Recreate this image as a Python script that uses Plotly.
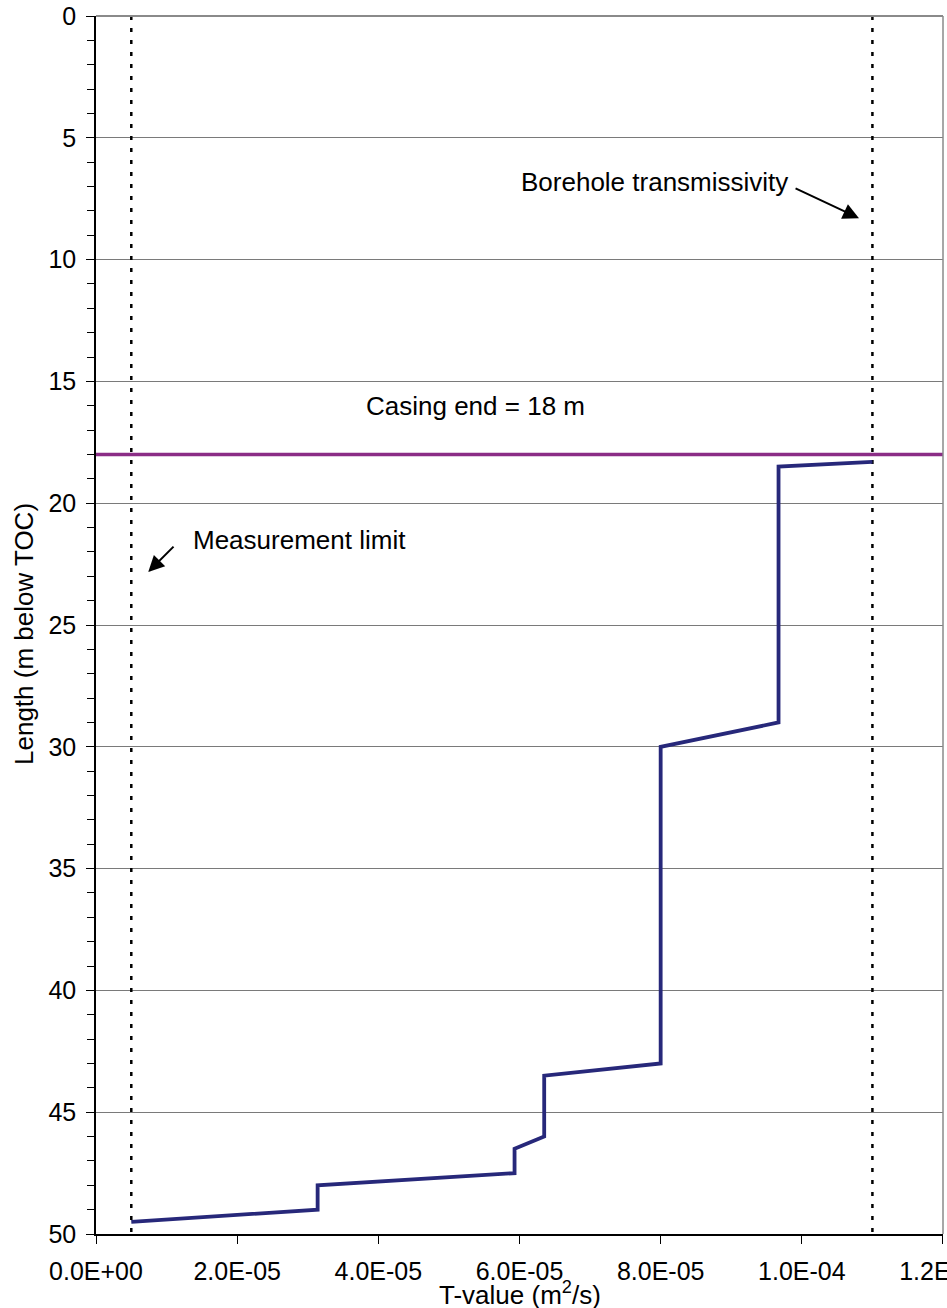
import plotly.graph_objects as go

# Data
t_value = [1.10e-4, 9.67e-5, 9.67e-5, 8.0e-5, 8.0e-5, 6.35e-5, 6.35e-5,
           5.93e-5, 5.93e-5, 3.14e-5, 3.14e-5, 5.0e-6]
length = [18.3, 18.5, 29.0, 30.0, 43.0, 43.5, 46.0, 46.5, 47.5, 48.0, 49.0, 49.5]

measurement_limit = 5.0e-6
borehole_T = 1.10e-4
casing_end = 18.0

x_tickvals = [0.0, 2.0e-5, 4.0e-5, 6.0e-5, 8.0e-5, 1.0e-4, 1.2e-4]
x_ticktext = ["0.0E+00", "2.0E-05", "4.0E-05", "6.0E-05", "8.0E-05", "1.0E-04", "1.2E-04"]
y_tickvals = [0, 5, 10, 15, 20, 25, 30, 35, 40, 45, 50]

FONT = "Arial, 'Liberation Sans', sans-serif"
DOT = "4px,8px"
X_MAX = 1.20001e-4

fig = go.Figure()

# Measurement limit (dotted)
fig.add_trace(go.Scatter(x=[measurement_limit, measurement_limit], y=[0, 50], mode="lines",
                         line=dict(color="black", width=2.5, dash=DOT), hoverinfo="skip",
                         showlegend=False))
# Borehole transmissivity (dotted)
fig.add_trace(go.Scatter(x=[borehole_T, borehole_T], y=[0, 50], mode="lines",
                         line=dict(color="black", width=2.5, dash=DOT), hoverinfo="skip",
                         showlegend=False))
# Casing end
fig.add_trace(go.Scatter(x=[0, X_MAX], y=[casing_end, casing_end], mode="lines",
                         line=dict(color="#8B2D86", width=3.5), showlegend=False))
# T-value profile
fig.add_trace(go.Scatter(x=t_value, y=length, mode="lines",
                         line=dict(color="#27287A", width=3.8), showlegend=False))

fig.update_layout(
    width=947, height=1308,
    margin=dict(l=96, r=4, t=16, b=74),
    plot_bgcolor="white", paper_bgcolor="white",
    font=dict(family=FONT, size=25, color="black"),
    showlegend=False,
    xaxis=dict(range=[0, X_MAX], tickvals=x_tickvals, ticktext=x_ticktext, automargin=False,
               ticklabeloverflow="allow",
               showgrid=False, zeroline=False, showline=True, linecolor="black", linewidth=1.5,
               ticks="outside", ticklen=8, tickwidth=1.2, tickcolor="black",
               tickfont=dict(size=25, family=FONT, color="black"), ticklabelstandoff=6),
    yaxis=dict(range=[50, 0], tickvals=y_tickvals, automargin=False,
               ticklabeloverflow="allow",
               showgrid=True, gridcolor="#7a7a7a", gridwidth=1, zeroline=False,
               showline=True, linecolor="black", linewidth=1.5,
               ticks="outside", ticklen=8, tickwidth=1.2, tickcolor="black",
               tickfont=dict(size=25, family=FONT, color="black"), ticklabelstandoff=5,
               minor=dict(dtick=1, ticks="outside", ticklen=7, tickwidth=1.2,
                          tickcolor="black", showgrid=False)),
)

# Right and top borders (gray)
fig.add_shape(type="line", xref="paper", yref="paper", x0=1, x1=1, y0=0, y1=1,
              line=dict(color="#8a8a8a", width=1.5))
fig.add_shape(type="line", xref="paper", yref="paper", x0=0, x1=1, y0=1, y1=1,
              line=dict(color="#8a8a8a", width=2))

ann_font = dict(family=FONT, size=26, color="black")
fig.add_annotation(x=7.908e-5, y=6.8, xref="x", yref="y", text="Borehole transmissivity",
                   showarrow=False, font=ann_font, xanchor="center", yanchor="middle")
fig.add_annotation(x=1.081e-4, y=8.3, xref="x", yref="y", ax=9.89e-5, ay=7.05,
                   axref="x", ayref="y", text="", showarrow=True, arrowhead=2,
                   arrowsize=1.6, arrowwidth=2, arrowcolor="black")
fig.add_annotation(x=5.37e-5, y=16.0, xref="x", yref="y", text="Casing end = 18 m",
                   showarrow=False, font=ann_font, xanchor="center", yanchor="middle")
fig.add_annotation(x=2.88e-5, y=21.5, xref="x", yref="y", text="Measurement limit",
                   showarrow=False, font=ann_font, xanchor="center", yanchor="middle")
fig.add_annotation(x=7.4e-6, y=22.82, xref="x", yref="y", ax=1.12e-5, ay=21.72,
                   axref="x", ayref="y", text="", showarrow=True, arrowhead=2,
                   arrowsize=1.6, arrowwidth=2, arrowcolor="black")

# Axis titles
fig.add_annotation(x=0.5, y=0, xref="paper", yref="paper", yshift=-59,
                   text="T-value (m<sup>2</sup>/s)", showarrow=False, font=ann_font,
                   xanchor="center", yanchor="middle")
fig.add_annotation(x=0, y=0.5, xref="paper", yref="paper", xshift=-72, yshift=-9,
                   text="Length (m below TOC)", textangle=-90, showarrow=False,
                   font=ann_font, xanchor="center", yanchor="middle")

fig.write_html("out.html", config={"displayModeBar": False},
               post_script="document.body.style.margin='0px';document.body.style.overflow='hidden';")
